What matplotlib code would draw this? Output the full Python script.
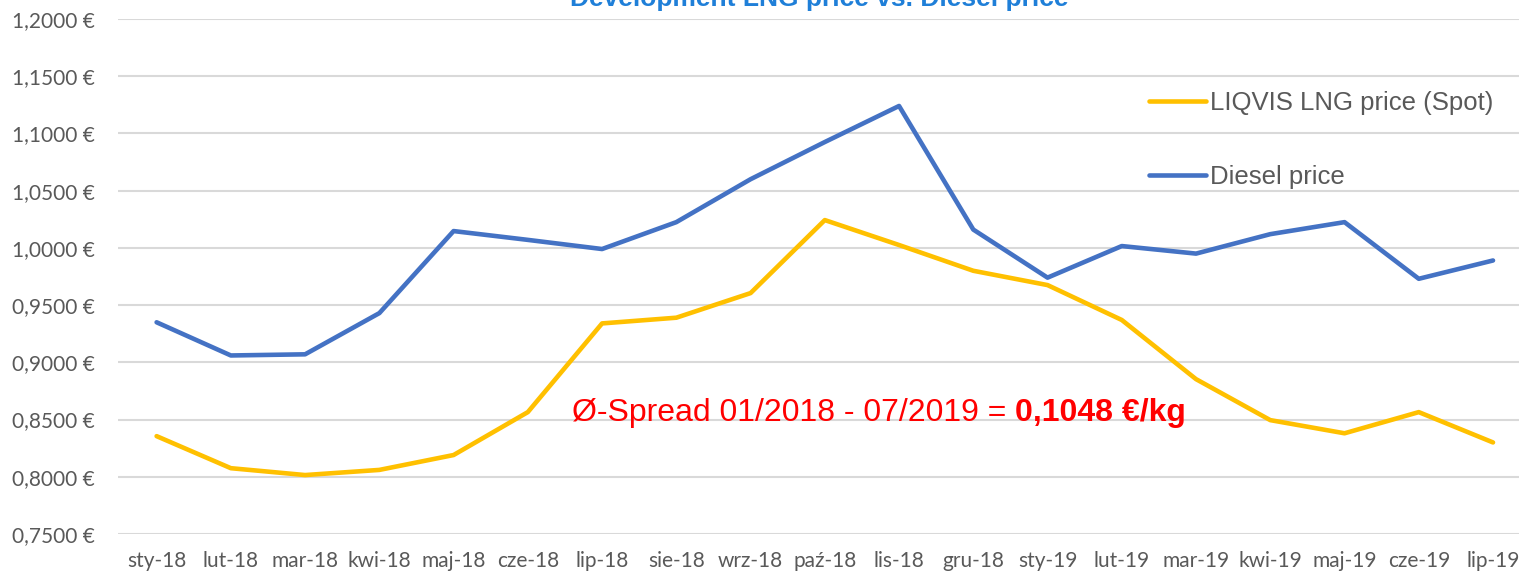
import matplotlib
matplotlib.use("Agg")
from matplotlib import pyplot as plt

months = ["sty-18", "lut-18", "mar-18", "kwi-18", "maj-18", "cze-18", "lip-18",
          "sie-18", "wrz-18", "paź-18", "lis-18", "gru-18", "sty-19", "lut-19",
          "mar-19", "kwi-19", "maj-19", "cze-19", "lip-19"]
lng_price = [0.8355, 0.8075, 0.8015, 0.8060, 0.8190, 0.8565, 0.9340, 0.9390,
             0.9605, 1.0243, 1.0025, 0.9800, 0.9675, 0.9370, 0.8853, 0.8495,
             0.8380, 0.8565, 0.8300]
diesel_price = [0.9350, 0.9060, 0.9070, 0.9430, 1.0147, 1.0070, 0.9990, 1.0225,
                1.0600, 1.0925, 1.1240, 1.0160, 0.9740, 1.0016, 0.9950, 1.0120,
                1.0225, 0.9730, 0.9890]
yticks = [0.75, 0.80, 0.85, 0.90, 0.95, 1.00, 1.05, 1.10, 1.15, 1.20]

fig = plt.figure(figsize=(15.19, 5.78), dpi=100)
ax = fig.add_axes([118 / 1519, 44 / 578, 1 - 118 / 1519, (534 - 19) / 578])

x = range(len(months))
ax.plot(x, lng_price, color="#FFC000", lw=3.3, solid_capstyle="round",
        label="LIQVIS LNG price (Spot)")
ax.plot(x, diesel_price, color="#4472C4", lw=3.3, solid_capstyle="round",
        label="Diesel price")

ax.set_ylim(0.75, 1.2)
ax.set_xlim(-0.52, 18.35)
ax.set_yticks(yticks)
ax.set_yticklabels([("%.4f €" % v).replace(".", ",") for v in yticks])
ax.set_xticks(list(x))
ax.set_xticklabels(months)
ax.tick_params(length=0, labelsize=15, labelcolor="#595959", pad=12)
ax.tick_params(axis="y", pad=17)
for lab in ax.get_xticklabels() + ax.get_yticklabels():
    lab.set_family("Lato")
ax.grid(axis="y", color="#D9D9D9", lw=1.5)
ax.set_axisbelow(True)
for s in ax.spines.values():
    s.set_visible(False)

leg = ax.legend(loc="upper left", bbox_to_anchor=(1126 / 1519, 1 - 68 / 578),
                bbox_transform=fig.transFigure, frameon=False,
                handlelength=2.2, handletextpad=0.15, labelspacing=1.95,
                prop={"family": "Liberation Sans", "size": 18.5})
for t in leg.get_texts():
    t.set_color("#595959")

t1 = fig.text(572 / 1519, 1 - 413 / 578, "Ø-Spread 01/2018 - 07/2019 = ",
              color="#FF0000", fontsize=23, family="Liberation Sans", va="center")
fig.canvas.draw()
bb = t1.get_window_extent()
fig.text(bb.x1 / fig.bbox.width, 1 - 413 / 578, "0,1048 €/kg", color="#FF0000",
         fontsize=23, family="Liberation Sans", weight="bold", va="center")

fig.text(819 / 1519, 1 - 6 / 578, "Development LNG price vs. Diesel price",
         color="#1F7FD8", fontsize=19, family="Liberation Sans", weight="bold",
         ha="center", va="baseline")

fig.savefig("out.png", dpi=100)
